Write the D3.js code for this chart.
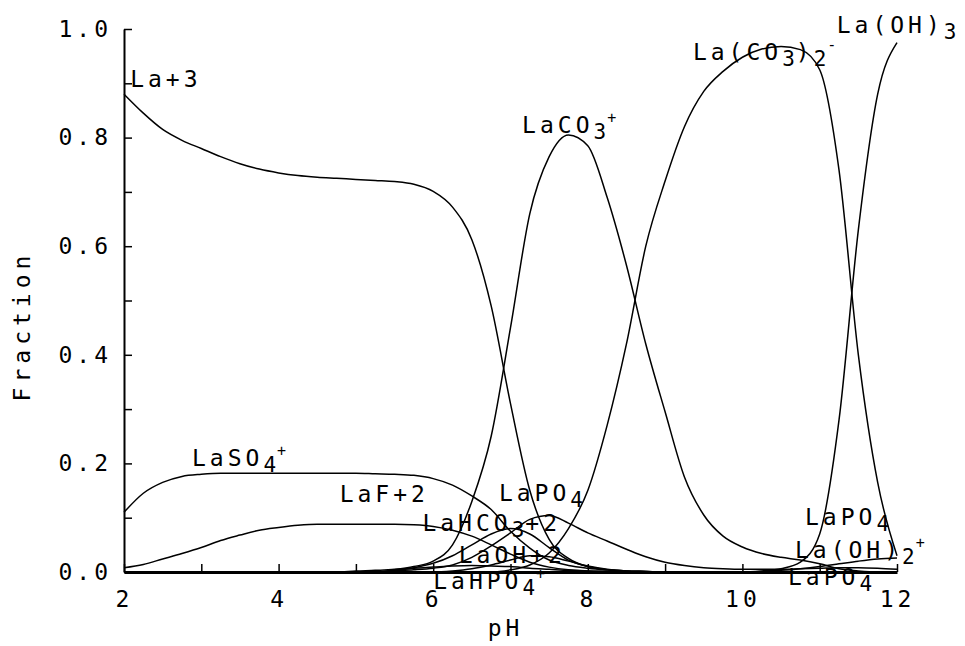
<!DOCTYPE html>
<html>
<head>
<meta charset="utf-8">
<script src="https://cdn.jsdelivr.net/npm/d3@7"></script>
<style>
  body { margin: 0; background: #fff; }
  text { font-family: "DejaVu Sans Mono", monospace; font-size: 23px; letter-spacing: 4px; fill: #000; }
</style>
</head>
<body>
<svg id="chart" width="965" height="646"></svg>
<script>
/* Data: La speciation vs pH (fractions) */

const pH = [2, 2.25, 2.5, 2.75, 3, 3.25, 3.5, 3.75, 4, 4.25, 4.5, 4.75, 5, 5.25, 5.5, 5.75,
  6, 6.25, 6.5, 6.75, 7, 7.25, 7.5, 7.75, 8, 8.25, 8.5, 8.75, 9, 9.25, 9.5, 9.75,
  10, 10.25, 10.5, 10.75, 11, 11.25, 11.5, 11.75, 12];

const La3 = [0.88, 0.845, 0.815, 0.795, 0.78, 0.765, 0.752, 0.742, 0.735, 0.73, 0.727, 0.725, 0.723, 0.721, 0.719, 0.714,
  0.701, 0.672, 0.612, 0.49, 0.31, 0.15, 0.06, 0.025, 0.01, 0.004, 0.002, 0.001, 0, 0, 0, 0,
  0, 0, 0, 0, 0, 0, 0, 0, 0];
const LaCO3 = [0, 0, 0, 0, 0, 0, 0, 0, 0, 0, 0, 0, 0, 0, 0.004, 0.01,
  0.02, 0.05, 0.13, 0.25, 0.45, 0.66, 0.765, 0.805, 0.785, 0.69, 0.565, 0.42, 0.295, 0.175, 0.105, 0.066,
  0.046, 0.034, 0.027, 0.022, 0.015, 0.006, 0.002, 0, 0];
const LaCO32 = [0, 0, 0, 0, 0, 0, 0, 0, 0, 0, 0, 0, 0, 0, 0, 0,
  0, 0, 0, 0, 0.004, 0.013, 0.035, 0.08, 0.15, 0.27, 0.42, 0.6, 0.72, 0.82, 0.885, 0.922,
  0.948, 0.963, 0.968, 0.962, 0.925, 0.74, 0.40, 0.165, 0.03];
const LaOH3 = [0, 0, 0, 0, 0, 0, 0, 0, 0, 0, 0, 0, 0, 0, 0, 0,
  0, 0, 0, 0, 0, 0, 0, 0, 0, 0, 0, 0, 0, 0, 0, 0,
  0, 0.002, 0.006, 0.018, 0.07, 0.28, 0.63, 0.88, 0.975];
const LaSO4 = [0.11, 0.145, 0.165, 0.176, 0.18, 0.182, 0.182, 0.182, 0.182, 0.182, 0.182, 0.182, 0.182, 0.181, 0.18, 0.178,
  0.172, 0.16, 0.14, 0.115, 0.075, 0.044, 0.022, 0.012, 0.007, 0.004, 0.002, 0.001, 0, 0, 0, 0,
  0, 0, 0, 0, 0, 0, 0, 0, 0];
const LaF = [0.008, 0.014, 0.024, 0.034, 0.045, 0.058, 0.068, 0.077, 0.082, 0.086, 0.088, 0.088, 0.088, 0.088, 0.088, 0.087,
  0.084, 0.077, 0.066, 0.05, 0.033, 0.018, 0.009, 0.004, 0.002, 0.001, 0, 0, 0, 0, 0, 0,
  0, 0, 0, 0, 0, 0, 0, 0, 0];
const LaPO4 = [0, 0, 0, 0, 0, 0, 0, 0, 0, 0, 0, 0, 0, 0, 0.002, 0.004,
  0.007, 0.013, 0.027, 0.048, 0.072, 0.097, 0.104, 0.09, 0.072, 0.057, 0.042, 0.028, 0.018, 0.012, 0.008, 0.006,
  0.005, 0.005, 0.005, 0.006, 0.007, 0.008, 0.008, 0.007, 0.005];
const LaHCO3 = [0, 0, 0, 0, 0, 0, 0, 0, 0, 0, 0, 0, 0, 0, 0.003, 0.008,
  0.016, 0.03, 0.05, 0.07, 0.08, 0.07, 0.045, 0.022, 0.01, 0.004, 0.001, 0, 0, 0, 0, 0,
  0, 0, 0, 0, 0, 0, 0, 0, 0];
const LaOH = [0, 0, 0, 0, 0, 0, 0, 0, 0, 0, 0, 0, 0, 0, 0, 0,
  0, 0.002, 0.006, 0.013, 0.022, 0.03, 0.028, 0.02, 0.011, 0.005, 0.002, 0.001, 0, 0, 0, 0,
  0, 0, 0, 0, 0, 0, 0, 0, 0];
const LaHPO4 = [0, 0, 0, 0, 0, 0, 0, 0, 0, 0, 0, 0, 0.002, 0.003, 0.005, 0.007,
  0.009, 0.011, 0.012, 0.011, 0.01, 0.007, 0.005, 0.003, 0.002, 0.001, 0, 0, 0, 0, 0, 0,
  0, 0, 0, 0, 0, 0, 0, 0, 0];
const LaOH2 = [0, 0, 0, 0, 0, 0, 0, 0, 0, 0, 0, 0, 0, 0, 0, 0,
  0, 0, 0, 0, 0, 0, 0, 0, 0, 0, 0, 0, 0, 0, 0, 0,
  0, 0.001, 0.003, 0.006, 0.01, 0.015, 0.02, 0.024, 0.026];

const series = [La3, LaCO3, LaCO32, LaOH3, LaSO4, LaF, LaPO4, LaHCO3, LaOH, LaHPO4, LaOH2];

// species labels: markup (_ = subscript, ^ = superscript), placed in data units
const labels = [
  ['La+3', 2.08, 0.893],
  ['LaCO_3^+', 7.15, 0.808],
  ['La(CO_3)_2^-', 9.36, 0.943],
  ['La(OH)_3', 11.22, 0.993],
  ['LaSO_4^+', 2.88, 0.195],
  ['LaF+2', 4.79, 0.129],
  ['LaPO_4', 6.85, 0.131],
  ['LaHCO_3+2', 5.86, 0.076],
  ['LaOH+2', 6.33, 0.016],
  ['LaHPO_4^+', 6.0, -0.032],
  ['LaPO_4', 10.81, 0.087],
  ['La(OH)_2^+', 10.68, 0.026],
  ['LaPO_4', 10.59, -0.024]
];

const yTicks = [0, 0.1, 0.2, 0.3, 0.4, 0.5, 0.6, 0.7, 0.8, 0.9, 1.0];
const xTicks = [2, 3, 4, 5, 6, 7, 8, 9, 10, 11, 12];

/* Scales */

const svg = d3.select('#chart');
const x = d3.scaleLinear().domain([2, 12]).range([124, 897]);
const y = d3.scaleLinear().domain([0, 1]).range([572, 29]);

/* Axes */

const yAxis = d3.axisLeft(y)
  .tickValues(yTicks)
  .tickSizeInner(-8)
  .tickSizeOuter(0)
  .tickPadding(12)
  .tickFormat(d => Math.round(d * 10) % 2 === 0 ? d3.format('.1f')(d) : '');

const xAxis = d3.axisBottom(x)
  .tickValues(xTicks)
  .tickSizeInner(-8)
  .tickSizeOuter(0)
  .tickPadding(19)
  .tickFormat(d => d % 2 === 0 ? d : '');

const gy = svg.append('g').attr('transform', `translate(${x(2)},0)`).call(yAxis);
const gx = svg.append('g').attr('transform', `translate(0,${y(0)})`).call(xAxis);

[gx, gy].forEach(g => {
  g.selectAll('text').style('font-size', '23px').style('font-family', '"DejaVu Sans Mono", monospace');
  g.selectAll('line').attr('stroke', '#000').attr('stroke-width', 1.5);
});
gy.select('.domain').attr('stroke-width', 2);
gx.select('.domain').attr('stroke-width', 3);

svg.append('text')
  .attr('x', x(7) - 5)
  .attr('y', 636)
  .attr('text-anchor', 'middle')
  .text('pH');

svg.append('text')
  .attr('transform', 'translate(30,326) rotate(-90)')
  .attr('text-anchor', 'middle')
  .style('letter-spacing', '5px')
  .text('Fraction');

/* Curves */

const line = d3.line()
  .x((d, i) => x(pH[i]))
  .y(d => y(d))
  .curve(d3.curveMonotoneX);

svg.append('g')
  .selectAll('path')
  .data(series)
  .join('path')
  .attr('d', line)
  .attr('fill', 'none')
  .attr('stroke', '#000')
  .attr('stroke-width', 1.5);

/* Labels */

const addLabel = ([str, px, fy]) => {
  const t = svg.append('text').attr('x', x(px)).attr('y', y(fy));
  let shift = 0;
  str.split(/([_^].)/).filter(s => s).forEach(p => {
    if (p[0] === '_') {
      t.append('tspan').attr('dy', 6 - shift)
        .style('font-size', '21px').style('letter-spacing', '1px').text(p[1]);
      shift = 6;
    } else if (p[0] === '^') {
      t.append('tspan').attr('dy', -10 - shift)
        .style('font-size', '15px').style('letter-spacing', '0px').text(p[1]);
      shift = -10;
    } else {
      t.append('tspan').attr('dy', -shift).text(p);
      shift = 0;
    }
  });
};

labels.forEach(addLabel);
</script>
</body>
</html>
